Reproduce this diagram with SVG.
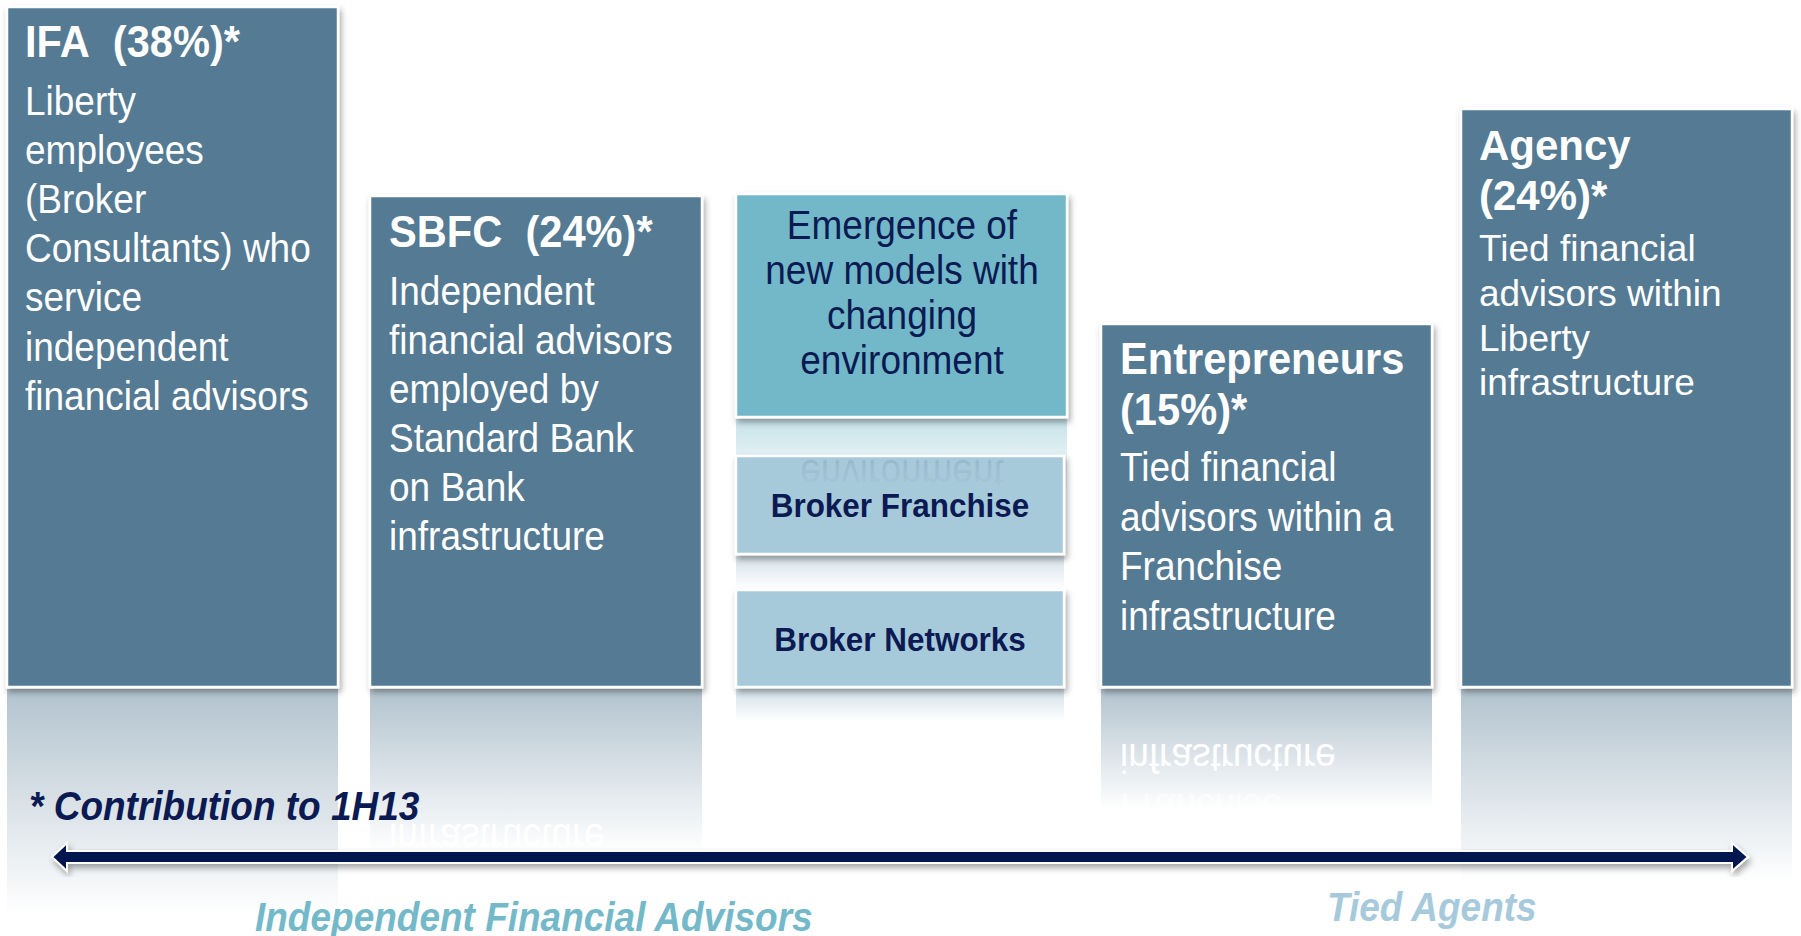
<svg xmlns="http://www.w3.org/2000/svg" width="1801" height="936" viewBox="0 0 1801 936">
<defs>
<style>
.box{fill:#557a93;stroke:#fff;stroke-width:2.5}
.em{fill:#72b8c8;stroke:#fff;stroke-width:2.5}
.bk{fill:#a7cadb;stroke:#fff;stroke-width:2.5}
.t{font-family:"Liberation Sans",Arial,sans-serif;fill:#fff}
.h{font-size:45px;font-weight:bold}
.b{font-size:40px}
.nv{fill:#0b1a52}
.bb{font-size:34px;font-weight:bold}
.it{font-weight:bold;font-style:italic;font-size:40px}
</style>
<filter id="sh" x="-10%" y="-10%" width="130%" height="130%"><feDropShadow dx="2" dy="4" stdDeviation="3" flood-color="#000" flood-opacity="0.35"/></filter>
<linearGradient id="rf" x1="0" y1="0" x2="0" y2="1"><stop offset="0" stop-color="#557a93" stop-opacity="0.45"/><stop offset="1" stop-color="#557a93" stop-opacity="0"/></linearGradient>
<linearGradient id="rfe" x1="0" y1="0" x2="0" y2="1"><stop offset="0" stop-color="#72b8c8" stop-opacity="0.4"/><stop offset="1" stop-color="#72b8c8" stop-opacity="0"/></linearGradient>
<linearGradient id="rfb" x1="0" y1="0" x2="0" y2="1"><stop offset="0" stop-color="#8fb3c6" stop-opacity="0.4"/><stop offset="1" stop-color="#8fb3c6" stop-opacity="0"/></linearGradient>
<linearGradient id="envFade" gradientUnits="userSpaceOnUse" x1="0" y1="400" x2="0" y2="342"><stop offset="0" stop-color="#54708a" stop-opacity="0.35"/><stop offset="1" stop-color="#54708a" stop-opacity="0"/></linearGradient>
</defs>
<rect width="1801" height="936" fill="#fff"/>

<g id="reflections">
<rect x="7" y="689" width="331" height="226" fill="url(#rf)"/>
<rect x="370" y="689" width="332" height="163" fill="url(#rf)"/>
<rect x="1101" y="689" width="331" height="121" fill="url(#rf)"/>
<rect x="1461" y="689" width="331" height="193" fill="url(#rf)"/>
<rect x="736" y="689" width="328" height="32" fill="url(#rfb)"/>
<rect x="736" y="556" width="328" height="32" fill="url(#rfb)"/>
<rect x="736" y="419" width="331" height="75" fill="url(#rfe)"/>
<g class="t b" fill="#fff">
<text transform="matrix(0.925,0,0,-1,389,1374)" y="550">infrastructure</text>
<text transform="matrix(0.925,0,0,-1,1120,1374)" y="630">infrastructure</text>
<text transform="matrix(0.925,0,0,-1,1120,1374)" y="580" opacity="0.6">Franchise</text>
</g>
</g>

<g id="node-ifa">
<rect class="box" x="7" y="7" width="331" height="680" filter="url(#sh)"/>
<g class="t" transform="matrix(0.925,0,0,1,25,0)">
<text class="h" y="57">IFA&#160; (38%)*</text>
<text class="b" y="115">Liberty</text>
<text class="b" y="164">employees</text>
<text class="b" y="213">(Broker</text>
<text class="b" y="262">Consultants) who</text>
<text class="b" y="311">service</text>
<text class="b" y="361">independent</text>
<text class="b" y="410">financial advisors</text>
</g>
</g>

<g id="node-sbfc">
<rect class="box" x="370" y="196" width="332" height="491" filter="url(#sh)"/>
<g class="t" transform="matrix(0.925,0,0,1,389,0)">
<text class="h" y="247">SBFC&#160; (24%)*</text>
<text class="b" y="305">Independent</text>
<text class="b" y="354">financial advisors</text>
<text class="b" y="403">employed by</text>
<text class="b" y="452">Standard Bank</text>
<text class="b" y="501">on Bank</text>
<text class="b" y="550">infrastructure</text>
</g>
</g>

<g id="node-emergence">
<rect class="em" x="736" y="194" width="331" height="223" filter="url(#sh)"/>
<g class="t nv" transform="matrix(0.925,0,0,1,902,0)" text-anchor="middle">
<text class="b nv" y="239">Emergence of</text>
<text class="b nv" y="284">new models with</text>
<text class="b nv" y="329">changing</text>
<text class="b nv" y="374">environment</text>
</g>
</g>

<g id="node-broker-franchise">
<rect class="bk" x="736" y="456" width="328" height="98" filter="url(#sh)"/>
<text class="t b" style="fill:url(#envFade)" transform="matrix(0.925,0,0,-1,902,834)" y="374" text-anchor="middle">environment</text>
<text class="t bb nv" transform="matrix(0.925,0,0,1,900,517)" text-anchor="middle">Broker Franchise</text>
</g>

<g id="node-broker-networks">
<rect class="bk" x="736" y="590" width="328" height="97" filter="url(#sh)"/>
<text class="t bb nv" transform="matrix(0.925,0,0,1,900,651)" text-anchor="middle">Broker Networks</text>
</g>

<g id="node-entrepreneurs">
<rect class="box" x="1101" y="324" width="331" height="363" filter="url(#sh)"/>
<g class="t" transform="matrix(0.925,0,0,1,1120,0)">
<text class="h" y="374">Entrepreneurs</text>
<text class="h" y="425">(15%)*</text>
<text class="b" y="481">Tied financial</text>
<text class="b" y="531">advisors within a</text>
<text class="b" y="580">Franchise</text>
<text class="b" y="630">infrastructure</text>
</g>
</g>

<g id="node-agency">
<rect class="box" x="1461" y="109" width="331" height="578" filter="url(#sh)"/>
<g class="t">
<text x="1479" y="160" font-size="42" font-weight="bold">Agency</text>
<text x="1479" y="210" font-size="42" font-weight="bold">(24%)*</text>
<text x="1479" y="261" font-size="37">Tied financial</text>
<text x="1479" y="306" font-size="37">advisors within</text>
<text x="1479" y="351" font-size="37">Liberty</text>
<text x="1479" y="395" font-size="37">infrastructure</text>
</g>
</g>

<g id="connectors">
<path d="M52,857 L67,843 L67,851 L1732,851 L1732,843 L1748,857 L1732,871 L1732,863 L67,863 L67,871 Z" fill="#001650" stroke="#fff" stroke-width="2" filter="url(#sh)"/>
</g>

<g id="labels">
<text class="t it nv" transform="matrix(0.925,0,0,1,29,820)">* Contribution to 1H13</text>
<text class="t it" style="fill:#74b9c9" transform="matrix(0.925,0,0,1,255,931)">Independent Financial Advisors</text>
<text class="t it" style="fill:#a6cadb" transform="matrix(0.925,0,0,1,1327,921)">Tied Agents</text>
</g>
</svg>
